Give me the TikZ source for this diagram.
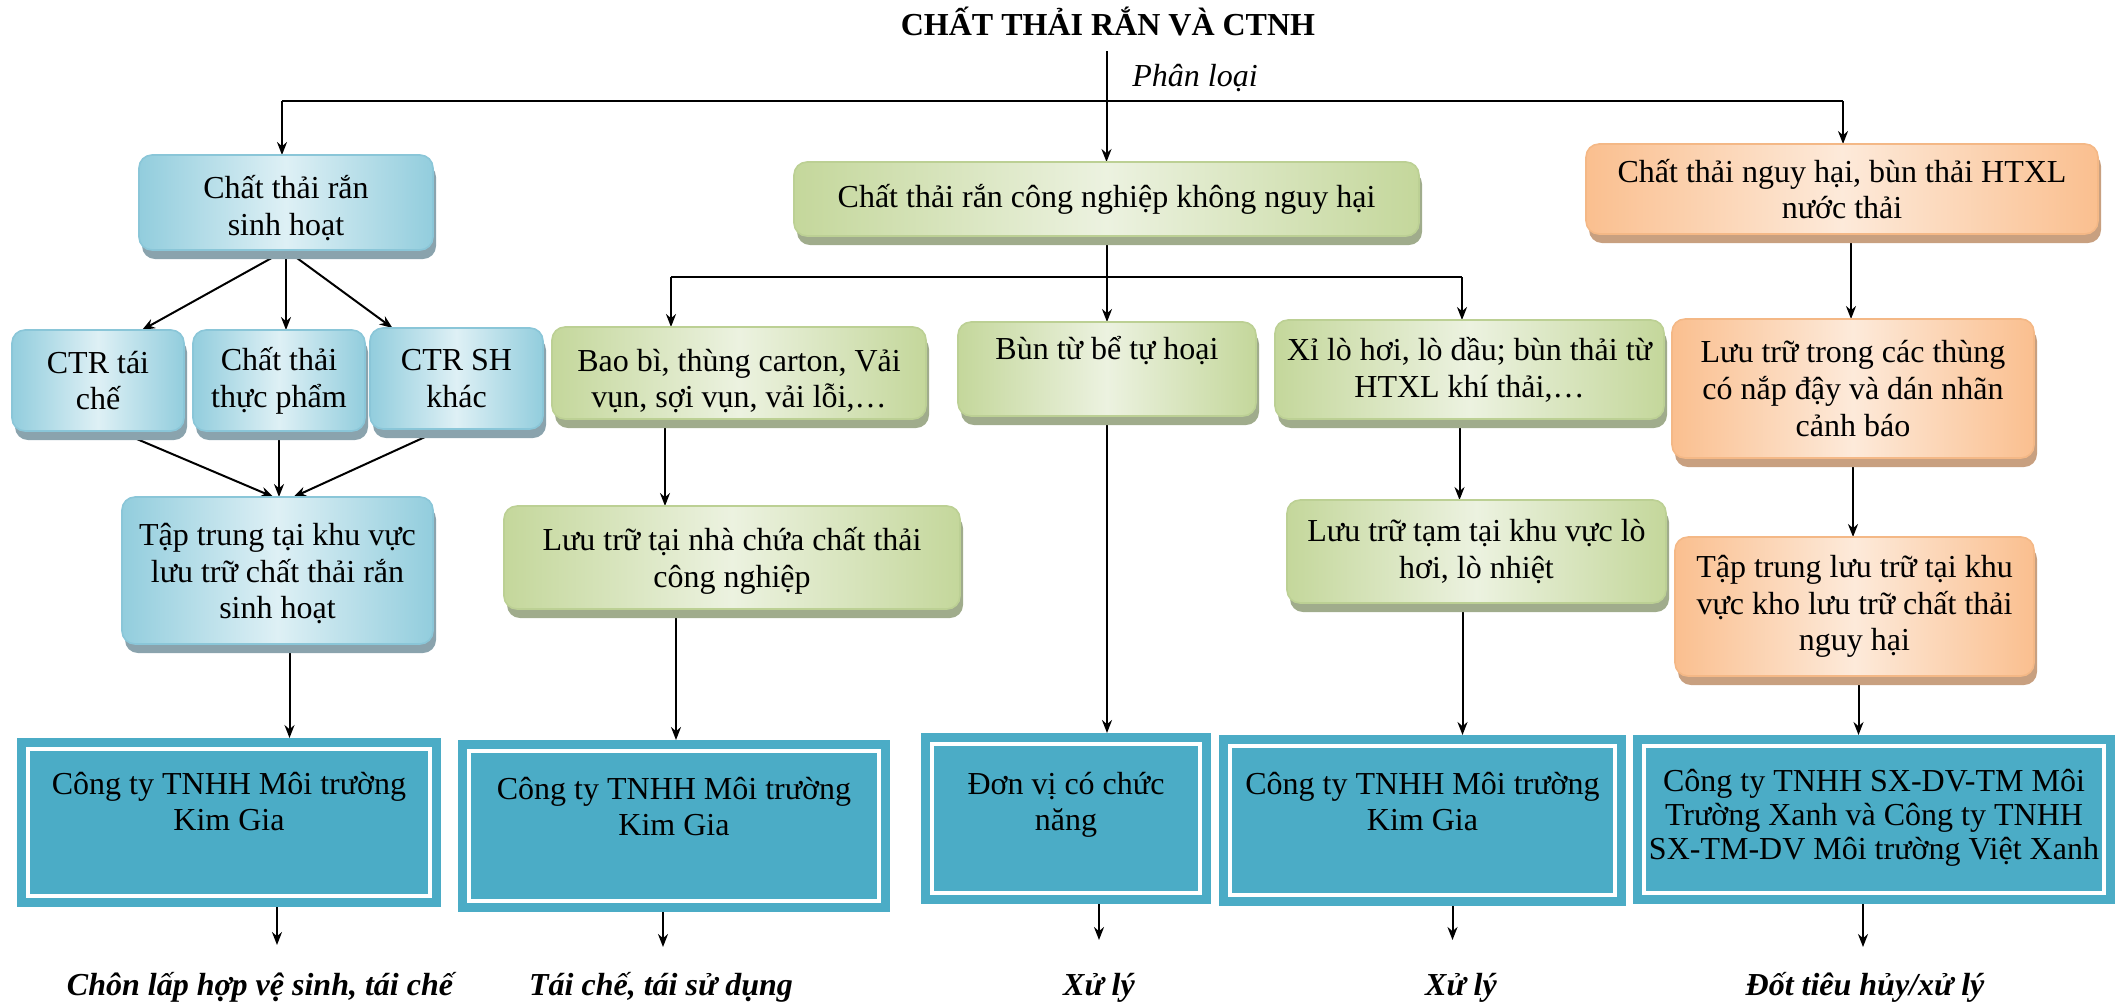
\documentclass[tikz,border=0pt]{standalone}
\usepackage{fontspec}
\setmainfont{Liberation Serif}
\usetikzlibrary{arrows.meta,shadows,backgrounds}

\definecolor{bluedark}{RGB}{146,205,221}
\definecolor{bluelight}{RGB}{222,240,245}
\definecolor{blueedge}{RGB}{138,198,216}
\definecolor{blueshadow}{RGB}{138,163,173}
\definecolor{greendark}{RGB}{196,215,155}
\definecolor{greenlight}{RGB}{236,242,224}
\definecolor{greenedge}{RGB}{188,208,148}
\definecolor{greenshadow}{RGB}{160,172,140}
\definecolor{orangedark}{RGB}{250,191,143}
\definecolor{orangelight}{RGB}{253,234,218}
\definecolor{orangeedge}{RGB}{244,184,134}
\definecolor{orangeshadow}{RGB}{200,160,128}
\definecolor{tealfill}{RGB}{75,172,198}

\begin{document}
\begin{tikzpicture}[x=0.5pt, y=-0.5pt,
  every node/.style={inner sep=0pt, outer sep=0pt, font=\fontsize{16}{18.4}\selectfont},
  boxdim/.style 2 args={minimum width=#1*0.5pt, minimum height=#2*0.5pt},
  softbox/.style={rounded corners=6.5pt, align=center, line width=0.8pt, shading angle=45},
  bluebox/.style={softbox, draw=blueedge, left color=bluedark, right color=bluedark,
    middle color=bluelight,
    drop shadow={shadow xshift=1.5pt, shadow yshift=-4.5pt, opacity=1, fill=blueshadow}},
  greenbox/.style={softbox, draw=greenedge, left color=greendark, right color=greendark,
    middle color=greenlight,
    drop shadow={shadow xshift=1.5pt, shadow yshift=-4.5pt, opacity=1, fill=greenshadow}},
  orangebox/.style={softbox, draw=orangeedge, left color=orangedark, right color=orangedark,
    middle color=orangelight,
    drop shadow={shadow xshift=1.5pt, shadow yshift=-4.5pt, opacity=1, fill=orangeshadow}},
  tealbox/.style={fill=tealfill,
    path picture={\draw[white, line width=2.2pt]
      ([shift={(5.4pt,-5.4pt)}]path picture bounding box.north west) rectangle
      ([shift={(-5.4pt,5.4pt)}]path picture bounding box.south east);}},
  % multi-line text: the base anchor sits on the baseline of the last line
  boxtext/.style={align=center, anchor=base},
  inbox/.style={align=center},
  outcome/.style={font=\fontsize{16}{18.4}\selectfont\bfseries\itshape, anchor=base},
  link/.style={line width=1pt},
  arr/.style={link, -{Stealth[length=6.5pt, width=5pt]}}
]
\useasboundingbox (0,0) rectangle (2120,1003);

% heading
\node[font=\fontsize{16}{18.4}\selectfont\bfseries, anchor=base] (title) at (1108,35) {CHẤT THẢI RẮN VÀ CTNH};
\node[font=\fontsize{16}{18.4}\selectfont\itshape, anchor=base] (sort) at (1195,86) {Phân loại};

% domestic solid waste branch
\node[bluebox, boxdim={294}{95}] (sh) at (286,202.5) {};
\node[inbox, yshift=-2.75pt] (shtxt) at (sh.center) {Chất thải rắn\\sinh hoạt};
\node[bluebox, boxdim={172}{101}] (ctr1) at (98,380.5) {CTR tái\\chế};
\node[bluebox, boxdim={172}{101}] (ctr2) at (279,380.5) {Chất thải\\thực phẩm};
\node[bluebox, boxdim={173}{101}] (ctr3) at (456.5,378.5) {CTR SH\\khác};
\node[bluebox, boxdim={311}{147}] (tt) at (277.5,570.5) {};
\node[inbox, yshift=-1.5pt] (tttxt) at (tt.center) {Tập trung tại khu vực\\lưu trữ chất thải rắn\\sinh hoạt};

% non-hazardous industrial waste branch
\node[greenbox, boxdim={625}{74}] (cn) at (1106.5,199) {Chất thải rắn công nghiệp không nguy hại};
\node[greenbox, boxdim={374}{92}] (bb) at (739,373) {};
\node[inbox, yshift=-4pt] (bbtxt) at (bb.center) {Bao bì, thùng carton, Vải\\vụn, sợi vụn, vải lỗi,…};
\node[greenbox, boxdim={298}{94}] (bun) at (1107,369) {};
\node[boxtext] (buntxt) at (1107,359) {Bùn từ bể tự hoại};
\node[greenbox, boxdim={389}{99}] (xi) at (1469.5,369.5) {Xỉ lò hơi, lò dầu; bùn thải từ\\HTXL khí thải,…};
\node[greenbox, boxdim={456}{103}] (lnc) at (732,557.5) {};
\node[inbox, yshift=-1.75pt] (lnctxt) at (lnc.center) {Lưu trữ tại nhà chứa chất thải\\công nghiệp};
\node[greenbox, boxdim={379}{103}] (ltt) at (1476.5,551.5) {Lưu trữ tạm tại khu vực lò\\hơi, lò nhiệt};

% hazardous waste branch
\node[orangebox, boxdim={512}{90}] (nh) at (1842,189) {Chất thải nguy hại, bùn thải HTXL\\nước thải};
\node[orangebox, boxdim={362}{139}] (ltr) at (1853,388.5) {Lưu trữ trong các thùng\\có nắp đậy và dán nhãn\\cảnh báo};
\node[orangebox, boxdim={359}{139}] (tnh) at (1854.5,606.5) {Tập trung lưu trữ tại khu\\vực kho lưu trữ chất thải\\nguy hại};

% receiving units
\node[tealbox, boxdim={424}{169}] (t1) at (229,822.5) {};
\node[boxtext] (t1txt) at (229,830.8) {Công ty TNHH Môi trường\\Kim Gia};
\node[tealbox, boxdim={432}{172}] (t2) at (674,826) {};
\node[boxtext] (t2txt) at (674,835.8) {Công ty TNHH Môi trường\\Kim Gia};
\node[tealbox, boxdim={290}{171}] (t3) at (1066,818.5) {};
\node[boxtext] (t3txt) at (1066,830.8) {Đơn vị có chức\\năng};
\node[tealbox, boxdim={407}{171}] (t4) at (1422.5,820.5) {};
\node[boxtext] (t4txt) at (1422.5,830.8) {Công ty TNHH Môi trường\\Kim Gia};
\node[tealbox, boxdim={482}{169}] (t5) at (1874,819.5) {};
\node[boxtext, font=\fontsize{16}{17}\selectfont] (t5txt) at (1874,859) {Công ty TNHH SX-DV-TM Môi\\Trường Xanh và Công ty TNHH\\SX-TM-DV Môi trường Việt Xanh};

% final treatment
\node[outcome] (b1) at (260,995) {Chôn lấp hợp vệ sinh, tái chế};
\node[outcome] (b2) at (661,995) {Tái chế, tái sử dụng};
\node[outcome] (b3) at (1099,995) {Xử lý};
\node[outcome] (b4) at (1461,995) {Xử lý};
\node[outcome] (b5) at (1865,995) {Đốt tiêu hủy/xử lý};

\begin{pgfonlayer}{background}
  % classification
  \coordinate (start) at ([yshift=-8pt]title.south);
  \draw[arr] (start -| cn.north) -- (cn.north);
  \coordinate (forkL) at (282,101);
  \coordinate (forkR) at (1843,101);
  \draw[link] (forkL) -- (forkR);
  \draw[arr] (forkL) -- (forkL |- sh.north);
  \draw[arr] (forkR) -- (forkR |- nh.north);

  % domestic
  \draw[arr] (sh.south) -- ([xshift=22pt]ctr1.north);
  \draw[arr] (sh.south) -- (sh.south |- ctr2.north);
  \draw[arr] (sh.south) -- ([xshift=-32pt]ctr3.north);
  \draw[arr] ([xshift=10pt]ctr1.south) -- ([xshift=-2pt]tt.north);
  \draw[arr] (ctr2.south) -- (ctr2.south |- tt.north);
  \draw[arr] ([xshift=-7pt]ctr3.south) -- ([xshift=8pt]tt.north);
  \draw[arr] ([xshift=6pt]tt.south) coordinate (q1) -- (q1 |- t1.north);

  % industrial
  \draw[arr] (cn.south -| bun.north) -- (bun.north);
  \coordinate (forkA) at (671,277);
  \coordinate (forkB) at (1462,277);
  \draw[link] (forkA) -- (forkB);
  \draw[arr] (forkA) -- (forkA |- bb.north);
  \draw[arr] (forkB) -- (forkB |- xi.north);
  \draw[arr] ([xshift=-37pt]bb.south) coordinate (q2) -- (q2 |- lnc.north);
  \draw[arr] ([xshift=-28pt]lnc.south) coordinate (q3) -- (q3 |- t2.north);
  \draw[arr] (bun.south) -- (bun.south |- t3.north);
  \draw[arr] ([xshift=-5pt]xi.south) coordinate (q4) -- (q4 |- ltt.north);
  \draw[arr] ([xshift=-7pt]ltt.south) coordinate (q5) -- (q5 |- t4.north);

  % hazardous
  \draw[arr] ([xshift=4.5pt]nh.south) coordinate (q6) -- (q6 |- ltr.north);
  \draw[arr] (ltr.south) -- (ltr.south |- tnh.north);
  \draw[arr] ([xshift=2pt]tnh.south) coordinate (q7) -- (q7 |- t5.north);
\end{pgfonlayer}

% towards final treatment
\draw[arr] ([xshift=24pt]t1.south) -- ++(0,38);
\draw[arr] ([xshift=-5.5pt]t2.south) -- ++(0,35);
\draw[arr] ([xshift=16.5pt]t3.south) -- ++(0,36);
\draw[arr] ([xshift=15pt]t4.south) -- ++(0,34);
\draw[arr] ([xshift=-5.5pt]t5.south) -- ++(0,43);
\end{tikzpicture}
\end{document}
